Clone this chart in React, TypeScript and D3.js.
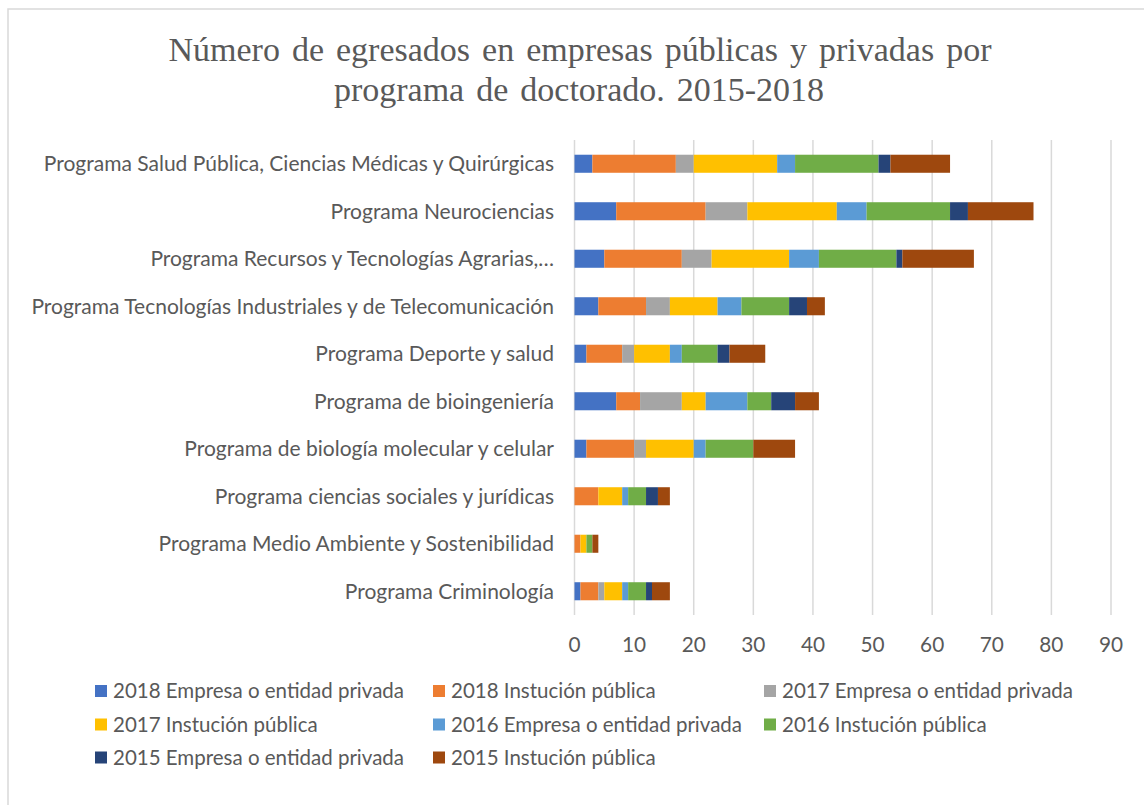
import * as React from "react";
import { scaleBand, scaleLinear, stack, range } from "d3";

const categories = [
  "Programa Salud Pública, Ciencias Médicas y Quirúrgicas",
  "Programa Neurociencias",
  "Programa Recursos y Tecnologías Agrarias,…",
  "Programa Tecnologías Industriales y de Telecomunicación",
  "Programa Deporte y salud",
  "Programa de bioingeniería",
  "Programa de biología molecular y celular",
  "Programa ciencias sociales y jurídicas",
  "Programa Medio Ambiente y Sostenibilidad",
  "Programa Criminología",
];

const seriesNames = [
  "2018 Empresa o entidad privada",
  "2018 Instución pública",
  "2017 Empresa o entidad privada",
  "2017 Instución pública",
  "2016 Empresa o entidad privada",
  "2016 Instución pública",
  "2015 Empresa o entidad privada",
  "2015 Instución pública",
];

const s2018Emp = [3, 7, 5, 4, 2, 7, 2, 0, 0, 1];
const s2018Inst = [14, 15, 13, 8, 6, 4, 8, 4, 1, 3];
const s2017Emp = [3, 7, 5, 4, 2, 7, 2, 0, 0, 1];
const s2017Inst = [14, 15, 13, 8, 6, 4, 8, 4, 1, 3];
const s2016Emp = [3, 5, 5, 4, 2, 7, 2, 1, 0, 1];
const s2016Inst = [14, 14, 13, 8, 6, 4, 8, 3, 1, 3];
const s2015Emp = [2, 3, 1, 3, 2, 4, 0, 2, 0, 1];
const s2015Inst = [10, 11, 12, 3, 6, 4, 7, 2, 1, 3];

const xTicks = [0, 10, 20, 30, 40, 50, 60, 70, 80, 90];

const colors = ["#4472C4", "#ED7D31", "#A5A5A5", "#FFC000", "#5B9BD5", "#70AD47", "#264478", "#9E480E"];

const seriesValues = [s2018Emp, s2018Inst, s2017Emp, s2017Inst, s2016Emp, s2016Inst, s2015Emp, s2015Inst];

const rows = categories.map((c, i) => {
  const r: any = { cat: c };
  seriesNames.forEach((s, j) => (r[s] = seriesValues[j][i]));
  return r;
});

const W = 1144;
const H = 805;
const labelFont = "Lato, 'Open Sans', sans-serif";
const textColor = "#595959";

export default function App() {
  const x = scaleLinear().domain([0, 90]).range([574.5, 1111]);
  const y = scaleBand()
    .domain(categories)
    .range([140, 615])
    .paddingInner(0.62)
    .paddingOuter(0.31);

  const layers = stack<any>().keys(seriesNames)(rows);

  const legendCols = [95, 433, 764];
  const legendRows = [691, 724.5, 757.5];

  return (
    <svg width={W} height={H} style={{ position: "fixed", left: 0, top: 0, background: "#fff" }}>
      <rect x={0} y={0} width={W} height={H} fill="#fff" />
      <rect x={8} y={9} width={1160} height={820} fill="#fff" stroke="#d9d9d9" strokeWidth={1.5} />

      <g fill={textColor} fontFamily="'Liberation Serif', 'Times New Roman', serif" fontSize={34} textAnchor="middle" wordSpacing={3.5}>
        <text x={580} y={61}>Número de egresados en empresas públicas y privadas por</text>
        <text x={579} y={101}>programa de doctorado. 2015-2018</text>
      </g>

      {/* gridlines */}
      <g>
        {xTicks.map((t) => (
          <line key={t} x1={x(t)} x2={x(t)} y1={140} y2={615} stroke="#d9d9d9" strokeWidth={1.5} />
        ))}
      </g>

      {/* bars */}
      <g>
        {layers.map((layer, li) => (
          <g key={layer.key} fill={colors[li]}>
            {layer.map((d, i) =>
              d[1] - d[0] > 0 ? (
                <rect
                  key={i}
                  x={x(d[0])}
                  y={y(categories[i])}
                  width={x(d[1]) - x(d[0])}
                  height={y.bandwidth()}
                />
              ) : null
            )}
          </g>
        ))}
      </g>

      {/* category labels */}
      <g fill={textColor} fontFamily={labelFont} fontSize={21} textAnchor="end">
        {categories.map((c) => (
          <text key={c} x={554} y={(y(c) as number) + y.bandwidth() / 2} dy="0.35em">
            {c}
          </text>
        ))}
      </g>

      {/* x tick labels */}
      <g fill={textColor} fontFamily={labelFont} fontSize={20.8} textAnchor="middle">
        {xTicks.map((t) => (
          <text key={t} x={x(t)} y={645} dy="0.35em">
            {t}
          </text>
        ))}
      </g>

      {/* legend */}
      <g fontFamily={labelFont} fontSize={20.5} fill={textColor}>
        {range(seriesNames.length).map((i) => {
          const cx = legendCols[i % 3];
          const cy = legendRows[Math.floor(i / 3)];
          return (
            <g key={i}>
              <rect x={cx} y={cy - 6} width={12} height={12} fill={colors[i]} />
              <text x={cx + 18} y={cy} dy="0.35em">
                {seriesNames[i]}
              </text>
            </g>
          );
        })}
      </g>
    </svg>
  );
}
